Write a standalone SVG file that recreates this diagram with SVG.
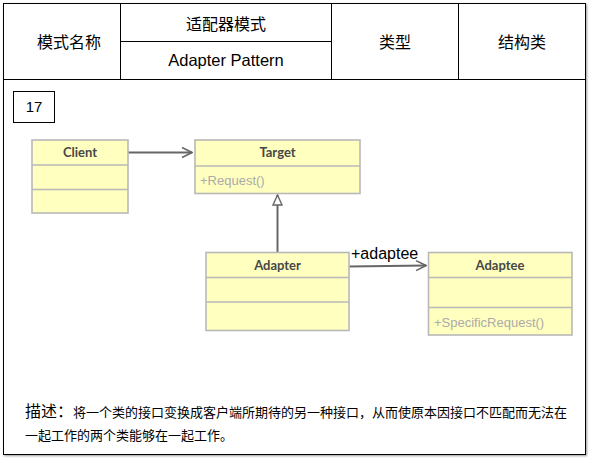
<svg xmlns="http://www.w3.org/2000/svg" width="590" height="459" viewBox="0 0 590 459">
<style>
.frame{fill:#fff;stroke:#000;stroke-width:1}
.line{stroke:#000;stroke-width:1;fill:none}
.hd{font-family:"Liberation Sans","Noto Sans CJK SC",sans-serif;font-size:16px;fill:#000;text-anchor:middle}
.cls{fill:#FFFFC0;stroke:#B8B8B8;stroke-width:1.6}
.div{stroke:#B8B8B8;stroke-width:1.6}
.cn{font-family:Lato,"Liberation Sans",sans-serif;font-weight:bold;font-size:13px;fill:#474747;text-anchor:middle}
.mem{font-family:"Liberation Sans",sans-serif;font-size:13px;fill:#ABABAB}
.conn{stroke:#666;stroke-width:2;fill:none}
.desc{font-family:"Liberation Sans","Noto Sans CJK SC",sans-serif;font-size:13px;fill:#000}
</style>
<defs>
<filter id="sh" x="-5%" y="-5%" width="110%" height="110%">
<feDropShadow dx="1" dy="1" stdDeviation="1" flood-color="#000" flood-opacity="0.4"/>
</filter>
<marker id="open" viewBox="0 0 12 12" refX="11" refY="6" markerWidth="12" markerHeight="12" markerUnits="userSpaceOnUse" orient="auto">
<path d="M1,1 L11,6 L1,11" fill="none" stroke="#666" stroke-width="1.6"/>
</marker>
<marker id="tri" viewBox="0 0 12 12" refX="11" refY="6" markerWidth="12" markerHeight="12" markerUnits="userSpaceOnUse" orient="auto">
<path d="M1,1.5 L11,6 L1,10.5 Z" fill="#fff" stroke="#666" stroke-width="1.4"/>
</marker>
</defs>
<rect width="590" height="459" fill="#fff"/>
<g id="frame">
<rect class="frame" x="3.5" y="3.5" width="582" height="451" filter="url(#sh)"/>
<line class="line" x1="3.5" y1="79.5" x2="585.5" y2="79.5"/>
<line class="line" x1="120.5" y1="3.5" x2="120.5" y2="79.5"/>
<line class="line" x1="331.5" y1="3.5" x2="331.5" y2="79.5"/>
<line class="line" x1="458.5" y1="3.5" x2="458.5" y2="79.5"/>
<line class="line" x1="120.5" y1="41.5" x2="331.5" y2="41.5"/>
<text class="hd" x="69" y="48">模式名称</text>
<text class="hd" x="226" y="30">适配器模式</text>
<text class="hd" x="226" y="66" style="font-size:16.5px">Adapter Pattern</text>
<text class="hd" x="395" y="48">类型</text>
<text class="hd" x="522" y="48">结构类</text>
</g>
<g id="num">
<rect class="frame" x="13.5" y="91.5" width="41" height="31"/>
<text class="hd" x="34" y="112" style="font-size:15px">17</text>
</g>
<g id="connectors">
<line class="conn" x1="128" y1="152.5" x2="192" y2="152.5" marker-end="url(#open)"/>
<line class="conn" x1="277.5" y1="252" x2="277.5" y2="195" marker-end="url(#tri)"/>
<line class="conn" x1="349" y1="266.5" x2="426" y2="265.5" marker-end="url(#open)"/>
<text x="351" y="259" style="font-family:'Liberation Sans',sans-serif;font-size:16px;fill:#000">+adaptee</text>
</g>
<g id="client">
<rect class="cls" x="32" y="140" width="96" height="73"/>
<line class="div" x1="32" y1="165" x2="128" y2="165"/>
<line class="div" x1="32" y1="189.5" x2="128" y2="189.5"/>
<text class="cn" x="80" y="157">Client</text>
</g>
<g id="target">
<rect class="cls" x="195" y="140" width="165" height="53.5"/>
<line class="div" x1="195" y1="166" x2="360" y2="166"/>
<text class="cn" x="277.5" y="157">Target</text>
<text class="mem" x="200" y="185">+Request()</text>
</g>
<g id="adapter">
<rect class="cls" x="206" y="252.5" width="143" height="78"/>
<line class="div" x1="206" y1="277.5" x2="349" y2="277.5"/>
<line class="div" x1="206" y1="302" x2="349" y2="302"/>
<text class="cn" x="277.5" y="269.5">Adapter</text>
</g>
<g id="adaptee">
<rect class="cls" x="428.5" y="252.5" width="143.5" height="82.5"/>
<line class="div" x1="428.5" y1="277.5" x2="572" y2="277.5"/>
<line class="div" x1="428.5" y1="307.5" x2="572" y2="307.5"/>
<text class="cn" x="500" y="269.5">Adaptee</text>
<text class="mem" x="434" y="327">+SpecificRequest()</text>
</g>
<g id="description">
<text class="desc" x="25" y="417"><tspan style="font-size:16px">描述：</tspan>将一个类的接口变换成客户端所期待的另一种接口，从而使原本因接口不匹配而无法在</text>
<text class="desc" x="25" y="440">一起工作的两个类能够在一起工作。</text>
</g>
</svg>
